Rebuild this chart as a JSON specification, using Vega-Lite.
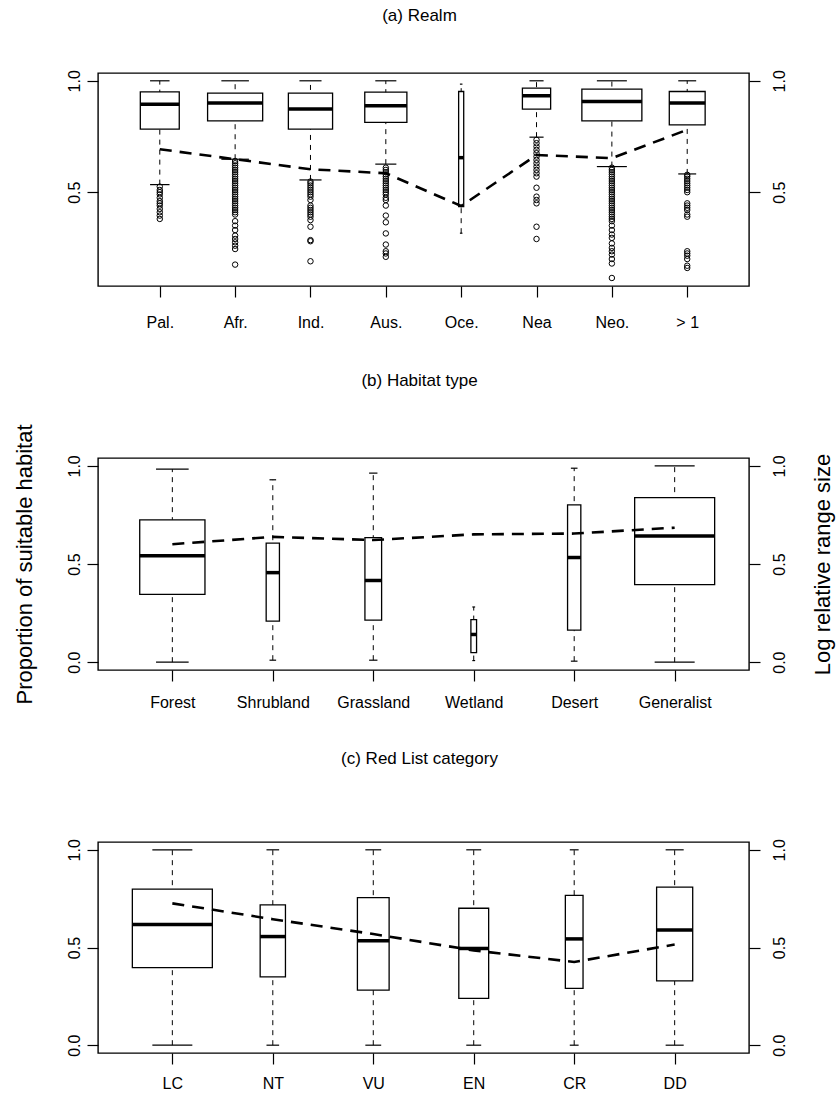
{
  "$schema": "https://vega.github.io/schema/vega-lite/v6.json",
  "autosize": {"type": "none"},
  "padding": {"left": 98, "top": 73, "right": 739, "bottom": 1022},
  "background": "white",
  "bounds": "flush",
  "spacing": 172,
  "datasets": {
    "realm": [
      {"group": "Pal.", "n": 590, "lo": 0.534, "q1": 0.783, "med": 0.895, "q3": 0.95, "hi": 1.0, "rr": 0.693},
      {"group": "Afr.", "n": 1180, "lo": 0.648, "q1": 0.82, "med": 0.9, "q3": 0.945, "hi": 1.0, "rr": 0.648},
      {"group": "Ind.", "n": 760, "lo": 0.555, "q1": 0.783, "med": 0.873, "q3": 0.945, "hi": 1.0, "rr": 0.603},
      {"group": "Aus.", "n": 690, "lo": 0.626, "q1": 0.813, "med": 0.888, "q3": 0.949, "hi": 1.0, "rr": 0.585},
      {"group": "Oce.", "n": 10, "lo": 0.316, "q1": 0.435, "med": 0.655, "q3": 0.952, "hi": 0.985, "rr": 0.438},
      {"group": "Nea", "n": 310, "lo": 0.747, "q1": 0.873, "med": 0.933, "q3": 0.967, "hi": 1.0, "rr": 0.667},
      {"group": "Neo.", "n": 1400, "lo": 0.615, "q1": 0.82, "med": 0.907, "q3": 0.963, "hi": 1.0, "rr": 0.653},
      {"group": "> 1", "n": 500, "lo": 0.582, "q1": 0.802, "med": 0.9, "q3": 0.952, "hi": 1.0, "rr": 0.78}
    ],
    "realm_out": [
      {"group": "Pal.", "v": 0.525}, {"group": "Pal.", "v": 0.51}, {"group": "Pal.", "v": 0.5}, {"group": "Pal.", "v": 0.49},
      {"group": "Pal.", "v": 0.475}, {"group": "Pal.", "v": 0.46}, {"group": "Pal.", "v": 0.45}, {"group": "Pal.", "v": 0.44},
      {"group": "Pal.", "v": 0.425}, {"group": "Pal.", "v": 0.41}, {"group": "Pal.", "v": 0.395}, {"group": "Pal.", "v": 0.38},
      {"group": "Afr.", "v": 0.64}, {"group": "Afr.", "v": 0.63}, {"group": "Afr.", "v": 0.62}, {"group": "Afr.", "v": 0.61},
      {"group": "Afr.", "v": 0.6}, {"group": "Afr.", "v": 0.59}, {"group": "Afr.", "v": 0.58}, {"group": "Afr.", "v": 0.57},
      {"group": "Afr.", "v": 0.56}, {"group": "Afr.", "v": 0.55}, {"group": "Afr.", "v": 0.54}, {"group": "Afr.", "v": 0.53},
      {"group": "Afr.", "v": 0.52}, {"group": "Afr.", "v": 0.51}, {"group": "Afr.", "v": 0.5}, {"group": "Afr.", "v": 0.49},
      {"group": "Afr.", "v": 0.48}, {"group": "Afr.", "v": 0.47}, {"group": "Afr.", "v": 0.46}, {"group": "Afr.", "v": 0.45},
      {"group": "Afr.", "v": 0.44}, {"group": "Afr.", "v": 0.43}, {"group": "Afr.", "v": 0.42}, {"group": "Afr.", "v": 0.41},
      {"group": "Afr.", "v": 0.4}, {"group": "Afr.", "v": 0.37}, {"group": "Afr.", "v": 0.35}, {"group": "Afr.", "v": 0.33},
      {"group": "Afr.", "v": 0.305}, {"group": "Afr.", "v": 0.29}, {"group": "Afr.", "v": 0.275}, {"group": "Afr.", "v": 0.26},
      {"group": "Afr.", "v": 0.245}, {"group": "Afr.", "v": 0.175},
      {"group": "Ind.", "v": 0.548}, {"group": "Ind.", "v": 0.54}, {"group": "Ind.", "v": 0.53}, {"group": "Ind.", "v": 0.52},
      {"group": "Ind.", "v": 0.51}, {"group": "Ind.", "v": 0.5}, {"group": "Ind.", "v": 0.49}, {"group": "Ind.", "v": 0.48},
      {"group": "Ind.", "v": 0.465}, {"group": "Ind.", "v": 0.44}, {"group": "Ind.", "v": 0.43}, {"group": "Ind.", "v": 0.42},
      {"group": "Ind.", "v": 0.41}, {"group": "Ind.", "v": 0.4}, {"group": "Ind.", "v": 0.39}, {"group": "Ind.", "v": 0.375},
      {"group": "Ind.", "v": 0.345}, {"group": "Ind.", "v": 0.285}, {"group": "Ind.", "v": 0.28}, {"group": "Ind.", "v": 0.19},
      {"group": "Aus.", "v": 0.61}, {"group": "Aus.", "v": 0.6}, {"group": "Aus.", "v": 0.59}, {"group": "Aus.", "v": 0.58},
      {"group": "Aus.", "v": 0.57}, {"group": "Aus.", "v": 0.56}, {"group": "Aus.", "v": 0.55}, {"group": "Aus.", "v": 0.54},
      {"group": "Aus.", "v": 0.53}, {"group": "Aus.", "v": 0.52}, {"group": "Aus.", "v": 0.51}, {"group": "Aus.", "v": 0.5},
      {"group": "Aus.", "v": 0.49}, {"group": "Aus.", "v": 0.475}, {"group": "Aus.", "v": 0.465}, {"group": "Aus.", "v": 0.44},
      {"group": "Aus.", "v": 0.395}, {"group": "Aus.", "v": 0.365}, {"group": "Aus.", "v": 0.315}, {"group": "Aus.", "v": 0.265},
      {"group": "Aus.", "v": 0.235}, {"group": "Aus.", "v": 0.225}, {"group": "Aus.", "v": 0.21},
      {"group": "Nea", "v": 0.735}, {"group": "Nea", "v": 0.72}, {"group": "Nea", "v": 0.705}, {"group": "Nea", "v": 0.69},
      {"group": "Nea", "v": 0.675}, {"group": "Nea", "v": 0.66}, {"group": "Nea", "v": 0.645}, {"group": "Nea", "v": 0.63},
      {"group": "Nea", "v": 0.615}, {"group": "Nea", "v": 0.6}, {"group": "Nea", "v": 0.585}, {"group": "Nea", "v": 0.57},
      {"group": "Nea", "v": 0.52}, {"group": "Nea", "v": 0.48}, {"group": "Nea", "v": 0.465}, {"group": "Nea", "v": 0.45},
      {"group": "Nea", "v": 0.345}, {"group": "Nea", "v": 0.29},
      {"group": "Neo.", "v": 0.61}, {"group": "Neo.", "v": 0.6}, {"group": "Neo.", "v": 0.59}, {"group": "Neo.", "v": 0.58},
      {"group": "Neo.", "v": 0.57}, {"group": "Neo.", "v": 0.56}, {"group": "Neo.", "v": 0.55}, {"group": "Neo.", "v": 0.54},
      {"group": "Neo.", "v": 0.53}, {"group": "Neo.", "v": 0.52}, {"group": "Neo.", "v": 0.51}, {"group": "Neo.", "v": 0.5},
      {"group": "Neo.", "v": 0.49}, {"group": "Neo.", "v": 0.48}, {"group": "Neo.", "v": 0.47}, {"group": "Neo.", "v": 0.46},
      {"group": "Neo.", "v": 0.45}, {"group": "Neo.", "v": 0.44}, {"group": "Neo.", "v": 0.43}, {"group": "Neo.", "v": 0.42},
      {"group": "Neo.", "v": 0.41}, {"group": "Neo.", "v": 0.4}, {"group": "Neo.", "v": 0.39}, {"group": "Neo.", "v": 0.38},
      {"group": "Neo.", "v": 0.37}, {"group": "Neo.", "v": 0.35}, {"group": "Neo.", "v": 0.33}, {"group": "Neo.", "v": 0.31},
      {"group": "Neo.", "v": 0.295}, {"group": "Neo.", "v": 0.27}, {"group": "Neo.", "v": 0.25}, {"group": "Neo.", "v": 0.235},
      {"group": "Neo.", "v": 0.22}, {"group": "Neo.", "v": 0.2}, {"group": "Neo.", "v": 0.18}, {"group": "Neo.", "v": 0.115},
      {"group": "> 1", "v": 0.578}, {"group": "> 1", "v": 0.57}, {"group": "> 1", "v": 0.56}, {"group": "> 1", "v": 0.55},
      {"group": "> 1", "v": 0.54}, {"group": "> 1", "v": 0.53}, {"group": "> 1", "v": 0.52}, {"group": "> 1", "v": 0.51},
      {"group": "> 1", "v": 0.5}, {"group": "> 1", "v": 0.45}, {"group": "> 1", "v": 0.44}, {"group": "> 1", "v": 0.43},
      {"group": "> 1", "v": 0.42}, {"group": "> 1", "v": 0.4}, {"group": "> 1", "v": 0.39}, {"group": "> 1", "v": 0.235},
      {"group": "> 1", "v": 0.225}, {"group": "> 1", "v": 0.215}, {"group": "> 1", "v": 0.2}, {"group": "> 1", "v": 0.17},
      {"group": "> 1", "v": 0.16}
    ],
    "habitat": [
      {"group": "Forest", "n": 1330, "lo": 0.0, "q1": 0.345, "med": 0.542, "q3": 0.725, "hi": 0.983, "rr": 0.601},
      {"group": "Shrubland", "n": 55, "lo": 0.01, "q1": 0.209, "med": 0.456, "q3": 0.606, "hi": 0.929, "rr": 0.638},
      {"group": "Grassland", "n": 87, "lo": 0.01, "q1": 0.214, "med": 0.416, "q3": 0.634, "hi": 0.963, "rr": 0.622},
      {"group": "Wetland", "n": 10, "lo": 0.008, "q1": 0.049, "med": 0.141, "q3": 0.217, "hi": 0.281, "rr": 0.651},
      {"group": "Desert", "n": 55, "lo": 0.005, "q1": 0.163, "med": 0.533, "q3": 0.801, "hi": 0.988, "rr": 0.655},
      {"group": "Generalist", "n": 2000, "lo": 0.0, "q1": 0.395, "med": 0.643, "q3": 0.838, "hi": 1.0, "rr": 0.685}
    ],
    "redlist": [
      {"group": "LC", "n": 2800, "lo": 0.0, "q1": 0.397, "med": 0.618, "q3": 0.799, "hi": 1.0, "rr": 0.726},
      {"group": "NT", "n": 280, "lo": 0.0, "q1": 0.35, "med": 0.556, "q3": 0.718, "hi": 1.0, "rr": 0.645},
      {"group": "VU", "n": 440, "lo": 0.0, "q1": 0.282, "med": 0.535, "q3": 0.755, "hi": 1.0, "rr": 0.569},
      {"group": "EN", "n": 390, "lo": 0.0, "q1": 0.24, "med": 0.495, "q3": 0.701, "hi": 1.0, "rr": 0.485},
      {"group": "CR", "n": 137, "lo": 0.0, "q1": 0.291, "med": 0.544, "q3": 0.767, "hi": 1.0, "rr": 0.426},
      {"group": "DD", "n": 570, "lo": 0.0, "q1": 0.329, "med": 0.59, "q3": 0.809, "hi": 1.0, "rr": 0.515}
    ]
  },
  "vconcat": [
    {
      "width": 651, "height": 213,
      "title": {"text": "(a) Realm", "offset": 45, "dx": -4},
      "layer": [
        {
          "data": {"name": "realm"},
          "mark": {"type": "rule", "strokeDash": [5, 5], "strokeWidth": 1, "color": "black"},
          "encoding": {
            "x": {"field": "group", "type": "nominal", "sort": ["Pal.", "Afr.", "Ind.", "Aus.", "Oce.", "Nea", "Neo.", "> 1"],
                  "scale": {"type": "point", "padding": 0.82},
                  "axis": {"title": null, "labelAngle": 0, "labelPadding": 17}},
            "y": {"field": "lo", "type": "quantitative", "scale": {"domain": [0.079, 1.035], "nice": false, "zero": false},
                  "axis": {"orient": "left", "title": null, "values": [0.5, 1.0], "format": ".1f", "labelAngle": -90, "labelAlign": "center", "labelBaseline": "bottom", "labelPadding": 5, "labelFlush": false, "labelOverlap": false}},
            "y2": {"field": "hi"}
          }
        },
        {
          "data": {"name": "realm"},
          "mark": {"type": "bar", "fill": "white", "stroke": "black", "strokeWidth": 1.3, "opacity": 1},
          "encoding": {
            "x": {"field": "group", "type": "nominal", "sort": ["Pal.", "Afr.", "Ind.", "Aus.", "Oce.", "Nea", "Neo.", "> 1"]},
            "y": {"field": "q1", "type": "quantitative", "axis": null},
            "y2": {"field": "q3"},
            "size": {"field": "n", "type": "quantitative", "scale": {"type": "sqrt", "domain": [0, 1400], "range": [0, 60]}, "legend": null}
          }
        },
        {
          "data": {"name": "realm"},
          "mark": {"type": "tick", "orient": "horizontal", "thickness": 3.5, "color": "black", "opacity": 1},
          "encoding": {
            "x": {"field": "group", "type": "nominal", "sort": ["Pal.", "Afr.", "Ind.", "Aus.", "Oce.", "Nea", "Neo.", "> 1"]},
            "y": {"field": "med", "type": "quantitative", "axis": null},
            "size": {"field": "n", "type": "quantitative", "scale": {"type": "sqrt", "domain": [0, 1400], "range": [0, 60]}, "legend": null}
          }
        },
        {
          "data": {"name": "realm"},
          "mark": {"type": "tick", "orient": "horizontal", "thickness": 1.2, "color": "black", "opacity": 1},
          "encoding": {
            "x": {"field": "group", "type": "nominal", "sort": ["Pal.", "Afr.", "Ind.", "Aus.", "Oce.", "Nea", "Neo.", "> 1"]},
            "y": {"field": "lo", "type": "quantitative", "axis": null},
            "size": {"field": "n", "type": "quantitative", "scale": {"type": "sqrt", "domain": [0, 1400], "range": [0, 30]}, "legend": null}
          }
        },
        {
          "data": {"name": "realm"},
          "mark": {"type": "tick", "orient": "horizontal", "thickness": 1.2, "color": "black", "opacity": 1},
          "encoding": {
            "x": {"field": "group", "type": "nominal", "sort": ["Pal.", "Afr.", "Ind.", "Aus.", "Oce.", "Nea", "Neo.", "> 1"]},
            "y": {"field": "hi", "type": "quantitative", "axis": null},
            "size": {"field": "n", "type": "quantitative", "scale": {"type": "sqrt", "domain": [0, 1400], "range": [0, 30]}, "legend": null}
          }
        },
        {
          "data": {"name": "realm_out"},
          "mark": {"type": "point", "shape": "circle", "filled": false, "stroke": "black", "strokeWidth": 1, "size": 30, "opacity": 1},
          "encoding": {
            "x": {"field": "group", "type": "nominal", "sort": ["Pal.", "Afr.", "Ind.", "Aus.", "Oce.", "Nea", "Neo.", "> 1"]},
            "y": {"field": "v", "type": "quantitative", "axis": null}
          }
        },
        {
          "data": {"name": "realm"},
          "mark": {"type": "line", "strokeDash": [12, 8], "strokeWidth": 2.6, "color": "black"},
          "encoding": {
            "x": {"field": "group", "type": "nominal", "sort": ["Pal.", "Afr.", "Ind.", "Aus.", "Oce.", "Nea", "Neo.", "> 1"]},
            "y": {"field": "rr", "type": "quantitative",
                  "axis": {"orient": "right", "title": null, "values": [0.5, 1.0], "format": ".1f", "labelAngle": -90, "labelAlign": "center", "labelBaseline": "top", "labelPadding": 11, "labelFlush": false, "labelOverlap": false}}
          }
        }
      ],
      "resolve": {"scale": {"size": "independent"}, "axis": {"y": "independent"}}
    },
    {
      "width": 651, "height": 212,
      "title": {"text": "(b) Habitat type", "offset": 34, "dx": -4},
      "layer": [
        {
          "data": {"name": "habitat"},
          "mark": {"type": "rule", "strokeDash": [5, 5], "strokeWidth": 1, "color": "black"},
          "encoding": {
            "x": {"field": "group", "type": "nominal", "sort": ["Forest", "Shrubland", "Grassland", "Wetland", "Desert", "Generalist"],
                  "scale": {"type": "point", "padding": 0.74},
                  "axis": {"title": null, "labelAngle": 0, "labelPadding": 13}},
            "y": {"field": "lo", "type": "quantitative", "scale": {"domain": [-0.04, 1.04], "nice": false, "zero": false},
                  "axis": {"orient": "left", "title": "Proportion of suitable habitat", "titleAngle": -90, "titleX": -74, "titleY": 106, "titleAlign": "center", "titleBaseline": "middle",
                           "values": [0, 0.5, 1.0], "format": ".1f", "labelAngle": -90, "labelAlign": "center", "labelBaseline": "bottom", "labelPadding": 5, "labelFlush": false, "labelOverlap": false}},
            "y2": {"field": "hi"}
          }
        },
        {
          "data": {"name": "habitat"},
          "mark": {"type": "bar", "fill": "white", "stroke": "black", "strokeWidth": 1.3, "opacity": 1},
          "encoding": {
            "x": {"field": "group", "type": "nominal", "sort": ["Forest", "Shrubland", "Grassland", "Wetland", "Desert", "Generalist"]},
            "y": {"field": "q1", "type": "quantitative", "axis": null},
            "y2": {"field": "q3"},
            "size": {"field": "n", "type": "quantitative", "scale": {"type": "sqrt", "domain": [0, 2000], "range": [0, 80]}, "legend": null}
          }
        },
        {
          "data": {"name": "habitat"},
          "mark": {"type": "tick", "orient": "horizontal", "thickness": 3.5, "color": "black", "opacity": 1},
          "encoding": {
            "x": {"field": "group", "type": "nominal", "sort": ["Forest", "Shrubland", "Grassland", "Wetland", "Desert", "Generalist"]},
            "y": {"field": "med", "type": "quantitative", "axis": null},
            "size": {"field": "n", "type": "quantitative", "scale": {"type": "sqrt", "domain": [0, 2000], "range": [0, 80]}, "legend": null}
          }
        },
        {
          "data": {"name": "habitat"},
          "mark": {"type": "tick", "orient": "horizontal", "thickness": 1.2, "color": "black", "opacity": 1},
          "encoding": {
            "x": {"field": "group", "type": "nominal", "sort": ["Forest", "Shrubland", "Grassland", "Wetland", "Desert", "Generalist"]},
            "y": {"field": "lo", "type": "quantitative", "axis": null},
            "size": {"field": "n", "type": "quantitative", "scale": {"type": "sqrt", "domain": [0, 2000], "range": [0, 40]}, "legend": null}
          }
        },
        {
          "data": {"name": "habitat"},
          "mark": {"type": "tick", "orient": "horizontal", "thickness": 1.2, "color": "black", "opacity": 1},
          "encoding": {
            "x": {"field": "group", "type": "nominal", "sort": ["Forest", "Shrubland", "Grassland", "Wetland", "Desert", "Generalist"]},
            "y": {"field": "hi", "type": "quantitative", "axis": null},
            "size": {"field": "n", "type": "quantitative", "scale": {"type": "sqrt", "domain": [0, 2000], "range": [0, 40]}, "legend": null}
          }
        },
        {
          "data": {"name": "habitat"},
          "mark": {"type": "line", "strokeDash": [12, 8], "strokeWidth": 2.6, "color": "black"},
          "encoding": {
            "x": {"field": "group", "type": "nominal", "sort": ["Forest", "Shrubland", "Grassland", "Wetland", "Desert", "Generalist"]},
            "y": {"field": "rr", "type": "quantitative",
                  "axis": {"orient": "right", "title": "Log relative range size", "titleAngle": -90, "titleX": 73, "titleY": 106, "titleAlign": "center", "titleBaseline": "middle",
                           "values": [0, 0.5, 1.0], "format": ".1f", "labelAngle": -90, "labelAlign": "center", "labelBaseline": "top", "labelPadding": 11, "labelFlush": false, "labelOverlap": false}}
          }
        }
      ],
      "resolve": {"scale": {"size": "independent"}, "axis": {"y": "independent"}}
    },
    {
      "width": 651, "height": 211,
      "title": {"text": "(c) Red List category", "offset": 71, "dx": -4},
      "layer": [
        {
          "data": {"name": "redlist"},
          "mark": {"type": "rule", "strokeDash": [5, 5], "strokeWidth": 1, "color": "black"},
          "encoding": {
            "x": {"field": "group", "type": "nominal", "sort": ["LC", "NT", "VU", "EN", "CR", "DD"],
                  "scale": {"type": "point", "padding": 0.74},
                  "axis": {"title": null, "labelAngle": 0, "labelPadding": 11}},
            "y": {"field": "lo", "type": "quantitative", "scale": {"domain": [-0.04, 1.04], "nice": false, "zero": false},
                  "axis": {"orient": "left", "title": null, "values": [0, 0.5, 1.0], "format": ".1f", "labelAngle": -90, "labelAlign": "center", "labelBaseline": "bottom", "labelPadding": 5, "labelFlush": false, "labelOverlap": false}},
            "y2": {"field": "hi"}
          }
        },
        {
          "data": {"name": "redlist"},
          "mark": {"type": "bar", "fill": "white", "stroke": "black", "strokeWidth": 1.3, "opacity": 1},
          "encoding": {
            "x": {"field": "group", "type": "nominal", "sort": ["LC", "NT", "VU", "EN", "CR", "DD"]},
            "y": {"field": "q1", "type": "quantitative", "axis": null},
            "y2": {"field": "q3"},
            "size": {"field": "n", "type": "quantitative", "scale": {"type": "sqrt", "domain": [0, 2800], "range": [0, 80]}, "legend": null}
          }
        },
        {
          "data": {"name": "redlist"},
          "mark": {"type": "tick", "orient": "horizontal", "thickness": 3.5, "color": "black", "opacity": 1},
          "encoding": {
            "x": {"field": "group", "type": "nominal", "sort": ["LC", "NT", "VU", "EN", "CR", "DD"]},
            "y": {"field": "med", "type": "quantitative", "axis": null},
            "size": {"field": "n", "type": "quantitative", "scale": {"type": "sqrt", "domain": [0, 2800], "range": [0, 80]}, "legend": null}
          }
        },
        {
          "data": {"name": "redlist"},
          "mark": {"type": "tick", "orient": "horizontal", "thickness": 1.2, "color": "black", "opacity": 1},
          "encoding": {
            "x": {"field": "group", "type": "nominal", "sort": ["LC", "NT", "VU", "EN", "CR", "DD"]},
            "y": {"field": "lo", "type": "quantitative", "axis": null},
            "size": {"field": "n", "type": "quantitative", "scale": {"type": "sqrt", "domain": [0, 2800], "range": [0, 40]}, "legend": null}
          }
        },
        {
          "data": {"name": "redlist"},
          "mark": {"type": "tick", "orient": "horizontal", "thickness": 1.2, "color": "black", "opacity": 1},
          "encoding": {
            "x": {"field": "group", "type": "nominal", "sort": ["LC", "NT", "VU", "EN", "CR", "DD"]},
            "y": {"field": "hi", "type": "quantitative", "axis": null},
            "size": {"field": "n", "type": "quantitative", "scale": {"type": "sqrt", "domain": [0, 2800], "range": [0, 40]}, "legend": null}
          }
        },
        {
          "data": {"name": "redlist"},
          "mark": {"type": "line", "strokeDash": [12, 8], "strokeWidth": 2.6, "color": "black"},
          "encoding": {
            "x": {"field": "group", "type": "nominal", "sort": ["LC", "NT", "VU", "EN", "CR", "DD"]},
            "y": {"field": "rr", "type": "quantitative",
                  "axis": {"orient": "right", "title": null, "values": [0, 0.5, 1.0], "format": ".1f", "labelAngle": -90, "labelAlign": "center", "labelBaseline": "top", "labelPadding": 11, "labelFlush": false, "labelOverlap": false}}
          }
        }
      ],
      "resolve": {"scale": {"size": "independent"}, "axis": {"y": "independent"}}
    }
  ],
  "config": {
    "font": "Liberation Sans",
    "view": {"stroke": "black", "strokeWidth": 1.4},
    "axis": {"grid": false, "domain": false, "tickColor": "black", "tickSize": 11, "tickWidth": 1.2,
             "labelColor": "black", "labelFontSize": 16, "labelFont": "Liberation Sans",
             "titleColor": "black", "titleFontSize": 22, "titleFontWeight": "normal", "titleFont": "Liberation Sans"},
    "title": {"fontSize": 17, "fontWeight": "normal", "color": "black", "font": "Liberation Sans", "baseline": "bottom", "anchor": "middle"}
  }
}
